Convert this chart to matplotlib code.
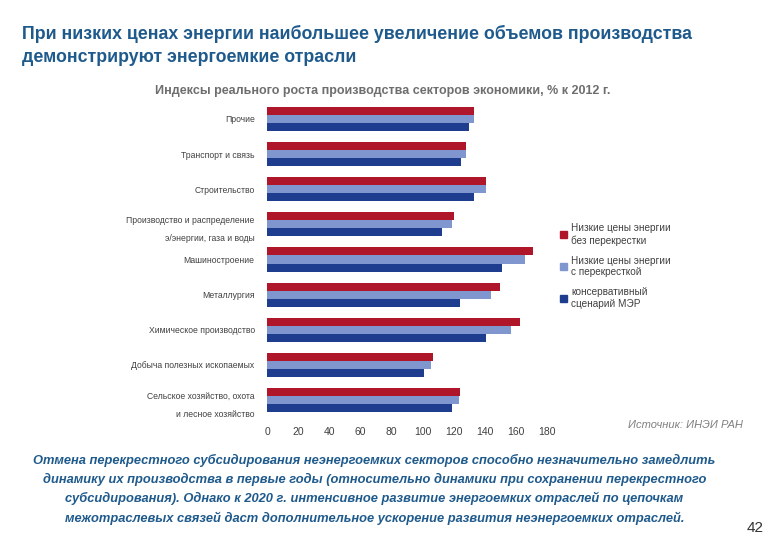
import numpy as np
import matplotlib
matplotlib.use('Agg')
from matplotlib import pyplot as plt
from matplotlib.patches import Patch

# данные (индексы к 2012 г., %)
sectors = ['Прочие', 'Транспорт и связь', 'Строительство',
           'Производство и распределение\nэ/энергии, газа и воды',
           'Машиностроение', 'Металлургия', 'Химическое производство',
           'Добыча полезных ископаемых',
           'Сельское хозяйство, охота\nи лесное хозяйство']
no_cross = [133, 127.5, 140.5, 119.8, 170.6, 149.4, 162.3, 106.4, 123.7]
with_cross = [133, 127.5, 140.5, 118.5, 165.5, 143.7, 156.5, 105, 123]
conservative = [129.5, 124.5, 133, 112, 151, 123.7, 140.5, 101, 119]
series_names = ['Низкие цены энергии\nбез перекрестки',
                'Низкие цены энергии\nс перекресткой',
                'консервативный\nсценарий МЭР']
xticks = [0, 20, 40, 60, 80, 100, 120, 140, 160, 180]

colors = ['#B0162A', '#7F96CF', '#1F3D8F']
plt.rcParams['font.family'] = ['Liberation Sans', 'DejaVu Sans']

fig = plt.figure(figsize=(7.8, 5.4), dpi=100)
ax = fig.add_axes([0.3426, 0.2267, 0.3591, 0.5855])

y = np.arange(len(sectors))
h = 0.228
for k, vals in enumerate([no_cross, with_cross, conservative]):
    ax.barh(y + (k - 1) * h, vals, height=h, color=colors[k])

ax.set_ylim(len(sectors) - 0.5, -0.5)
ax.set_xlim(0, 180)
ax.set_yticks(y)
ax.set_yticklabels(sectors, fontsize=6.2, color='#404040')
for lab in ax.get_yticklabels():
    lab.set_linespacing(2.3)
ax.set_xticks(xticks)
ax.set_xticklabels([str(t) for t in xticks], fontsize=7.5, color='#404040')
ax.tick_params(length=0, pad=7)
ax.tick_params(axis='y', pad=9)
for s in ax.spines.values():
    s.set_visible(False)

handles = [Patch(color=c) for c in colors]
fig.legend(handles, series_names, loc='upper left', bbox_to_anchor=(0.706, 0.603),
           frameon=False, fontsize=7.2, handlelength=0.7, handleheight=0.7,
           handletextpad=0.45, labelspacing=1.0, labelcolor='#404040')

fig.text(0.028, 0.953, 'При низких ценах энергии наибольшее увеличение объемов производства\n'
         'демонстрируют энергоемкие отрасли', fontsize=12.8,
         fontweight='bold', color='#1F5A8C', va='top', ha='left', linespacing=1.45)
fig.text(0.491, 0.832, 'Индексы реального роста производства секторов экономики, % к 2012 г.',
         fontsize=9, fontweight='bold', color='#6E6E6E',
         ha='center', va='center')
fig.text(0.952, 0.213, 'Источник: ИНЭИ РАН', fontsize=8,
         style='italic', color='#808080', ha='right', va='center')
fig.text(0.48, 0.094,
         'Отмена перекрестного субсидирования неэнергоемких секторов способно незначительно замедлить\n'
         'динамику их производства в первые годы (относительно динамики при сохранении перекрестного\n'
         'субсидирования). Однако к 2020 г. интенсивное развитие энергоемких отраслей по цепочкам\n'
         'межотраслевых связей даст дополнительное ускорение развития неэнергоемких отраслей.',
         fontsize=9.3, style='italic', fontweight='bold', color='#1F5A8C',
         ha='center', va='center', linespacing=1.6)
fig.text(0.968, 0.022, '42', fontsize=11, color='#333333', ha='center', va='center')

fig.savefig('out.png', dpi=100)
